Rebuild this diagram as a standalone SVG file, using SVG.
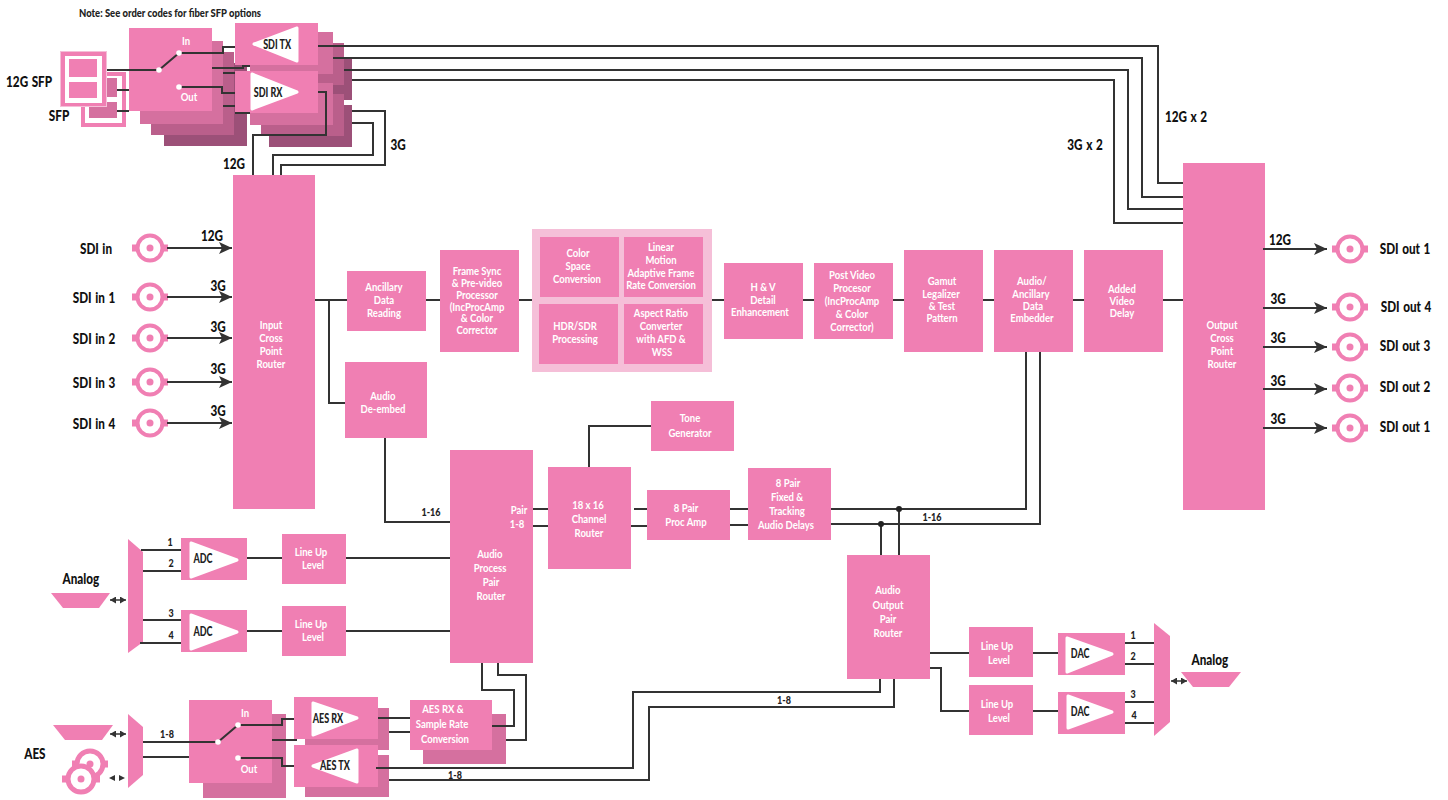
<svg xmlns="http://www.w3.org/2000/svg" width="1448" height="800" viewBox="0 0 1448 800">
<style>
rect,polygon{stroke:none}
.p{fill:#f07fb3}
.l2{fill:#d5709f}
.l3{fill:#ba5f8b}
.l4{fill:#9c5078}
.lt{fill:#f5bfd8}
.w{fill:#fff}
.tri{fill:#fff;stroke:#fff;stroke-width:3;stroke-linejoin:round}
text{font-family:"Lato","Liberation Sans",sans-serif;font-weight:700;text-anchor:middle;transform-box:fill-box;transform-origin:center}
.t{fill:#fff;font-size:11.500px;transform:scaleX(.83)}
.k{fill:#222;font-size:12.500px;font-weight:900;transform:scaleX(.72)}
.b{fill:#111;font-size:15px;font-weight:900;word-spacing:1px;transform:scaleX(.78)}
.n{fill:#222;font-size:12px;font-weight:900;transform:scaleX(.75)}
.note{fill:#222;font-size:11px;font-weight:900;transform:scaleX(.86)}
.c path{fill:none;stroke:#333;stroke-width:2}
.c .a{marker-end:url(#ah)}
.c .d{stroke-width:1.500;marker-start:url(#sm);marker-end:url(#sm)}
.dot{fill:#fff}
.j{fill:#222}
</style>
<defs>
<marker id="ah" markerUnits="userSpaceOnUse" markerWidth="14" markerHeight="12" refX="13" refY="6" orient="auto"><path d="M0 0L13 6L0 12L3 6Z" fill="#333"/></marker>
<marker id="sm" markerUnits="userSpaceOnUse" markerWidth="7" markerHeight="7" refX="6" refY="3.500" orient="auto-start-reverse"><path d="M0 0L6 3.500L0 7Z" fill="#333"/></marker>
<g id="bnc"><rect class="p" x="-18" y="-3.500" width="36" height="7"/><circle r="12.500" fill="#fff" stroke="#f07fb3" stroke-width="4"/><circle r="3.500" fill="#f07fb3"/></g>
</defs>

<text class="note" x="170" y="17">Note:  See order codes for fiber SFP options</text>

<g id="sfp-back"><rect class="p" x="81" y="72" width="45" height="55"/><rect class="w" x="85" y="76" width="37" height="47"/><rect class="l2" x="89" y="78" width="28" height="19"/><rect class="l2" x="89" y="102" width="28" height="16"/></g>
<g id="sfp-front"><rect class="lt" x="60" y="51" width="47" height="56"/><rect class="p" x="61" y="52" width="45" height="54"/><rect class="w" x="65" y="56" width="37" height="47"/><rect class="p" x="69" y="59" width="28" height="18"/><rect class="p" x="69" y="82" width="28" height="16"/><text class="b" x="29" y="87">12G SFP</text><text class="b" x="59" y="121">SFP</text></g>

<g id="switch-top"><rect class="l4" x="164" y="63" width="83" height="83"/><rect class="l3" x="151" y="52" width="83" height="83"/><rect class="l2" x="140" y="41" width="83" height="83"/><rect class="p" x="129" y="28" width="83" height="83"/><text class="t" x="186" y="45">In</text><text class="t" x="189" y="101">Out</text></g>

<g id="sdi-tx"><rect class="l4" x="269" y="58" width="83" height="42"/><rect class="l3" x="261" y="43" width="83" height="42"/><rect class="l2" x="250" y="32" width="83" height="42"/><rect class="p" x="235" y="23" width="83" height="42"/><polygon class="tri" points="254,44 297,28 297,61"/><text class="k" x="277" y="49">SDI TX</text></g>
<g id="sdi-rx"><rect class="l4" x="269" y="105" width="83" height="42"/><rect class="l3" x="261" y="94" width="83" height="42"/><rect class="l2" x="250" y="83" width="83" height="42"/><rect class="p" x="235" y="71" width="83" height="42"/><polygon class="tri" points="252,74 252,109 297,92"/><text class="k" x="268" y="97">SDI RX</text></g>

<g id="input-router"><rect class="p" x="233" y="175" width="82" height="334"/><text class="t" x="271" y="329">Input</text><text class="t" x="271" y="342">Cross</text><text class="t" x="271" y="355">Point</text><text class="t" x="271" y="368">Router</text></g>
<g id="output-router"><rect class="p" x="1183" y="163" width="82" height="347"/><text class="t" x="1222" y="329">Output</text><text class="t" x="1222" y="342">Cross</text><text class="t" x="1222" y="355">Point</text><text class="t" x="1222" y="368">Router</text></g>

<g id="ancillary"><rect class="p" x="347" y="271" width="79" height="60"/><text class="t" x="384" y="291">Ancillary</text><text class="t" x="384" y="304">Data</text><text class="t" x="384" y="317">Reading</text></g>
<g id="frame-sync"><rect class="p" x="440" y="250" width="79" height="102"/><text class="t" x="477" y="275">Frame Sync</text><text class="t" x="477" y="287">&amp; Pre-video</text><text class="t" x="477" y="299">Processor</text><text class="t" x="477" y="311">(IncProcAmp</text><text class="t" x="477" y="322">&amp; Color</text><text class="t" x="477" y="334">Corrector</text></g>
<g id="conversion-group"><rect class="lt" x="532" y="229" width="180" height="143"/></g>
<g id="color-space"><rect class="p" x="540" y="237" width="79" height="60"/><text class="t" x="578" y="257">Color</text><text class="t" x="578" y="270">Space</text><text class="t" x="577" y="283">Conversion</text></g>
<g id="linear-motion"><rect class="p" x="624" y="237" width="79" height="60"/><text class="t" x="661" y="251">Linear</text><text class="t" x="661" y="264">Motion</text><text class="t" x="661" y="277">Adaptive Frame</text><text class="t" x="661" y="289">Rate Conversion</text></g>
<g id="hdr-sdr"><rect class="p" x="539" y="304" width="79" height="60"/><text class="t" x="575" y="330">HDR/SDR</text><text class="t" x="575" y="343">Processing</text></g>
<g id="aspect"><rect class="p" x="624" y="304" width="79" height="60"/><text class="t" x="661" y="317">Aspect Ratio</text><text class="t" x="661" y="330">Converter</text><text class="t" x="661" y="343">with AFD &amp;</text><text class="t" x="662" y="356">WSS</text></g>
<g id="hv"><rect class="p" x="724" y="263" width="79" height="76"/><text class="t" x="763" y="291">H &amp; V</text><text class="t" x="763" y="304">Detail</text><text class="t" x="760" y="316">Enhancement</text></g>
<g id="post-video"><rect class="p" x="814" y="263" width="79" height="76"/><text class="t" x="852" y="279">Post Video</text><text class="t" x="852" y="292">Procesor</text><text class="t" x="852" y="305">(IncProcAmp</text><text class="t" x="852" y="318">&amp; Color</text><text class="t" x="852" y="331">Corrector)</text></g>
<g id="gamut"><rect class="p" x="904" y="250" width="79" height="102"/><text class="t" x="942" y="285">Gamut</text><text class="t" x="941" y="298">Legalizer</text><text class="t" x="942" y="310">&amp; Test</text><text class="t" x="942" y="322">Pattern</text></g>
<g id="embedder"><rect class="p" x="994" y="250" width="79" height="102"/><text class="t" x="1032" y="285">Audio/</text><text class="t" x="1031" y="298">Ancillary</text><text class="t" x="1033" y="310">Data</text><text class="t" x="1032" y="322">Embedder</text></g>
<g id="video-delay"><rect class="p" x="1084" y="250" width="79" height="102"/><text class="t" x="1122" y="293">Added</text><text class="t" x="1122" y="305">Video</text><text class="t" x="1122" y="317">Delay</text></g>
<g id="de-embed"><rect class="p" x="345" y="362" width="82" height="76"/><text class="t" x="383" y="400">Audio</text><text class="t" x="383" y="413">De-embed</text></g>
<g id="tone"><rect class="p" x="651" y="401" width="83" height="50"/><text class="t" x="690" y="422">Tone</text><text class="t" x="690" y="437">Generator</text></g>
<g id="audio-process"><rect class="p" x="450" y="450" width="83" height="213"/><text class="t" x="519" y="514">Pair</text><text class="t" x="517" y="528">1-8</text><text class="t" x="490" y="558">Audio</text><text class="t" x="490" y="572">Process</text><text class="t" x="491" y="586">Pair</text><text class="t" x="491" y="600">Router</text></g>
<g id="channel-router"><rect class="p" x="548" y="467" width="83" height="102"/><text class="t" x="588" y="509">18 x 16</text><text class="t" x="589" y="523">Channel</text><text class="t" x="589" y="537">Router</text></g>
<g id="proc-amp"><rect class="p" x="647" y="490" width="83" height="50"/><text class="t" x="686" y="512">8 Pair</text><text class="t" x="686" y="526">Proc Amp</text></g>
<g id="delays"><rect class="p" x="748" y="468" width="83" height="72"/><text class="t" x="788" y="487">8 Pair</text><text class="t" x="787" y="501">Fixed &amp;</text><text class="t" x="787" y="515">Tracking</text><text class="t" x="786" y="529">Audio Delays</text></g>
<g id="audio-output"><rect class="p" x="847" y="555" width="83" height="124"/><text class="t" x="888" y="594">Audio</text><text class="t" x="888" y="609">Output</text><text class="t" x="888" y="623">Pair</text><text class="t" x="888" y="637">Router</text></g>

<g id="mux-left"><polygon class="p" points="128,539 143,552 143,642 128,653"/><polygon class="p" points="51,593 110,593 99,608 63,608"/><text class="b" x="81" y="584">Analog</text></g>
<g id="adc1"><rect class="p" x="181" y="538" width="66" height="42"/><polygon class="tri" points="191,543 191,577 237,560"/><text class="k" x="203" y="563">ADC</text></g>
<g id="adc2"><rect class="p" x="181" y="610" width="66" height="42"/><polygon class="tri" points="191,615 191,649 237,632"/><text class="k" x="203" y="636">ADC</text></g>
<g id="lineup1"><rect class="p" x="282" y="534" width="64" height="50"/><text class="t" x="311" y="556">Line Up</text><text class="t" x="313" y="569">Level</text></g>
<g id="lineup2"><rect class="p" x="282" y="606" width="64" height="50"/><text class="t" x="311" y="628">Line Up</text><text class="t" x="313" y="641">Level</text></g>
<g id="lineup3"><rect class="p" x="969" y="627" width="64" height="50"/><text class="t" x="997" y="650">Line Up</text><text class="t" x="999" y="664">Level</text></g>
<g id="lineup4"><rect class="p" x="969" y="685" width="64" height="50"/><text class="t" x="997" y="708">Line Up</text><text class="t" x="999" y="722">Level</text></g>
<g id="dac1"><rect class="p" x="1058" y="633" width="67" height="42"/><polygon class="tri" points="1067,638 1067,672 1112,654"/><text class="k" x="1080" y="658">DAC</text></g>
<g id="dac2"><rect class="p" x="1058" y="692" width="67" height="42"/><polygon class="tri" points="1068,696 1068,728 1112,712"/><text class="k" x="1080" y="716">DAC</text></g>
<g id="mux-right"><polygon class="p" points="1154,623 1170,636 1170,722 1154,736"/><polygon class="p" points="1181,672 1241,672 1229,687 1193,687"/><text class="b" x="1210" y="665">Analog</text></g>

<g id="mux-aes"><polygon class="p" points="128,714 143,727 143,775 128,788"/><polygon class="p" points="53,725 113,725 102,740 65,740"/><text class="b" x="35" y="759">AES</text><g transform="translate(90,764)"><rect class="p" x="-18" y="-3.500" width="36" height="7"/><circle r="13" fill="#fff" stroke="#f07fb3" stroke-width="5"/><circle r="3.500" fill="#f07fb3"/></g><g transform="translate(81,779)"><rect class="p" x="-19" y="-3.500" width="38" height="7"/><circle r="13" fill="#fff" stroke="#f07fb3" stroke-width="5"/><circle r="3.500" fill="#f07fb3"/></g><polygon fill="#333" points="109,778 115,775 115,781"/><polygon fill="#333" points="125,778 119,775 119,781"/></g>
<g id="switch-aes"><rect class="l2" x="203" y="714" width="83" height="84"/><rect class="p" x="189" y="700" width="83" height="83"/><text class="t" x="245" y="717">In</text><text class="t" x="249" y="773">Out</text></g>
<g id="aes-rx"><rect class="l2" x="305" y="708" width="84" height="42"/><rect class="p" x="294" y="697" width="84" height="42"/><polygon class="tri" points="313,703 313,735 357,718"/><text class="k" x="328" y="723">AES RX</text></g>
<g id="aes-tx"><rect class="l2" x="305" y="755" width="84" height="42"/><rect class="p" x="294" y="745" width="84" height="42"/><polygon class="tri" points="313,766 357,750 357,782"/><text class="k" x="335" y="770">AES TX</text></g>
<g id="aes-src"><rect class="l2" x="423" y="714" width="83" height="50"/><rect class="p" x="410" y="700" width="82" height="50"/><text class="t" x="443" y="713">AES RX &amp;</text><text class="t" x="442" y="728">Sample Rate</text><text class="t" x="445" y="743">Conversion</text></g>

<g id="bnc-in"><use href="#bnc" x="150" y="248"/><use href="#bnc" x="150" y="297"/><use href="#bnc" x="150" y="338"/><use href="#bnc" x="150" y="382"/><use href="#bnc" x="150" y="423"/><text class="b" x="96" y="254">SDI in</text><text class="b" x="94" y="303">SDI in 1</text><text class="b" x="94" y="344">SDI in 2</text><text class="b" x="94" y="388">SDI in 3</text><text class="b" x="94" y="429">SDI in 4</text></g>
<g id="bnc-out"><use href="#bnc" x="1350" y="249"/><use href="#bnc" x="1350" y="307"/><use href="#bnc" x="1350" y="347"/><use href="#bnc" x="1350" y="388"/><use href="#bnc" x="1350" y="428"/><text class="b" x="1405" y="254">SDI out 1</text><text class="b" x="1406" y="312">SDI out 4</text><text class="b" x="1405" y="351">SDI out 3</text><text class="b" x="1405" y="392">SDI out 2</text><text class="b" x="1405" y="432">SDI out 1</text></g>

<g id="connectors" class="c">
<path d="M318 46H1158V183H1183"/><path d="M333 58H1142V197H1183"/><path d="M344 70H1128V209H1183"/><path d="M352 80H1114V223H1183"/>
<path d="M107 70H159L179 53H223V47H235"/><path d="M179 87H222V93H235"/><path d="M117 90H129"/><path d="M117 111H129"/>
<path d="M212 68H243V66H250"/><path d="M223 73H235"/><path d="M223 106H235"/><path d="M235 113H250"/>
<path d="M318 92H326V135H253V175"/><path d="M352 111H385V165H281V175"/><path d="M352 123H373V155H273V175"/>
<path class="a" d="M167 248H232"/><path class="a" d="M167 297H232"/><path class="a" d="M167 338H232"/><path class="a" d="M167 382H232"/><path class="a" d="M167 423H232"/>
<path class="a" d="M1263 249H1327"/><path class="a" d="M1263 308H1327"/><path class="a" d="M1263 347H1327"/><path class="a" d="M1263 389H1327"/><path class="a" d="M1263 428H1327"/>
<path d="M315 300H347"/><path d="M426 300H440"/><path d="M519 300H532"/><path d="M712 300H724"/><path d="M803 300H814"/><path d="M893 300H904"/><path d="M983 300H994"/><path d="M1073 300H1084"/><path d="M1163 300H1183"/>
<path d="M329 300V403H345"/><path d="M385 438V522H450"/>
<path d="M651 426H589V467"/>
<path d="M533 509H548"/><path d="M533 526H548"/><path d="M634 509H647"/><path d="M631 526H647"/><path d="M730 509H748"/><path d="M730 525H748"/>
<path d="M831 509H1026V352"/><path d="M831 524H1040V352"/><path d="M881 524V555"/><path d="M899 509V555"/>
<path d="M141 550H181"/><path d="M143 571H181"/><path d="M143 620H181"/><path d="M140 643H181"/>
<path d="M247 558H282"/><path d="M346 558H450"/><path d="M247 631H282"/><path d="M346 631H450"/>
<path d="M143 742H218L238 725H282V719H294"/><path d="M143 757H189"/><path d="M238 758H282V766H294"/><path d="M272 740H297"/>
<path d="M378 718H410"/><path d="M389 732H410"/>
<path d="M492 726H514V690H482V663"/><path d="M506 740H526V675H498V663"/>
<path d="M376 768H633V692H880V679"/><path d="M389 780H649V707H894V679"/>
<path d="M930 653H969"/><path d="M930 668H941V711H969"/><path d="M1033 653H1058"/><path d="M1033 711H1058"/>
<path d="M1125 643H1154"/><path d="M1125 664H1154"/><path d="M1125 702H1154"/><path d="M1125 723H1154"/>
<path class="d" d="M110 600H126"/><path class="d" d="M110 734H126"/><path class="d" d="M1171 681H1187"/>
<circle class="j" cx="881" cy="524" r="3"/><circle class="j" cx="899" cy="509" r="3"/>
<circle class="dot" cx="159" cy="70" r="2.800"/><circle class="dot" cx="179" cy="53" r="2.800"/><circle class="dot" cx="179" cy="87" r="2.800"/>
<circle class="dot" cx="218" cy="742" r="2.800"/><circle class="dot" cx="238" cy="725" r="2.800"/><circle class="dot" cx="238" cy="758" r="2.800"/>
</g>

<g id="labels">
<text class="b" x="234" y="169">12G</text><text class="b" x="398" y="150">3G</text><text class="b" x="1186" y="122">12G x 2</text><text class="b" x="1085" y="150">3G x 2</text>
<text class="b" x="212" y="241">12G</text><text class="b" x="218" y="291">3G</text><text class="b" x="218" y="332">3G</text><text class="b" x="218" y="374">3G</text><text class="b" x="218" y="416">3G</text>
<text class="b" x="1280" y="245">12G</text><text class="b" x="1278" y="304">3G</text><text class="b" x="1278" y="343">3G</text><text class="b" x="1278" y="386">3G</text><text class="b" x="1278" y="424">3G</text>
<text class="n" x="431" y="516">1-16</text><text class="n" x="932" y="521">1-16</text><text class="n" x="784" y="704">1-8</text><text class="n" x="455" y="779">1-8</text><text class="n" x="167" y="738">1-8</text>
<text class="n" x="170" y="546">1</text><text class="n" x="171" y="567">2</text><text class="n" x="171" y="617">3</text><text class="n" x="171" y="639">4</text>
<text class="n" x="1133" y="639">1</text><text class="n" x="1133" y="660">2</text><text class="n" x="1133" y="698">3</text><text class="n" x="1134" y="719">4</text>
</g>
</svg>
